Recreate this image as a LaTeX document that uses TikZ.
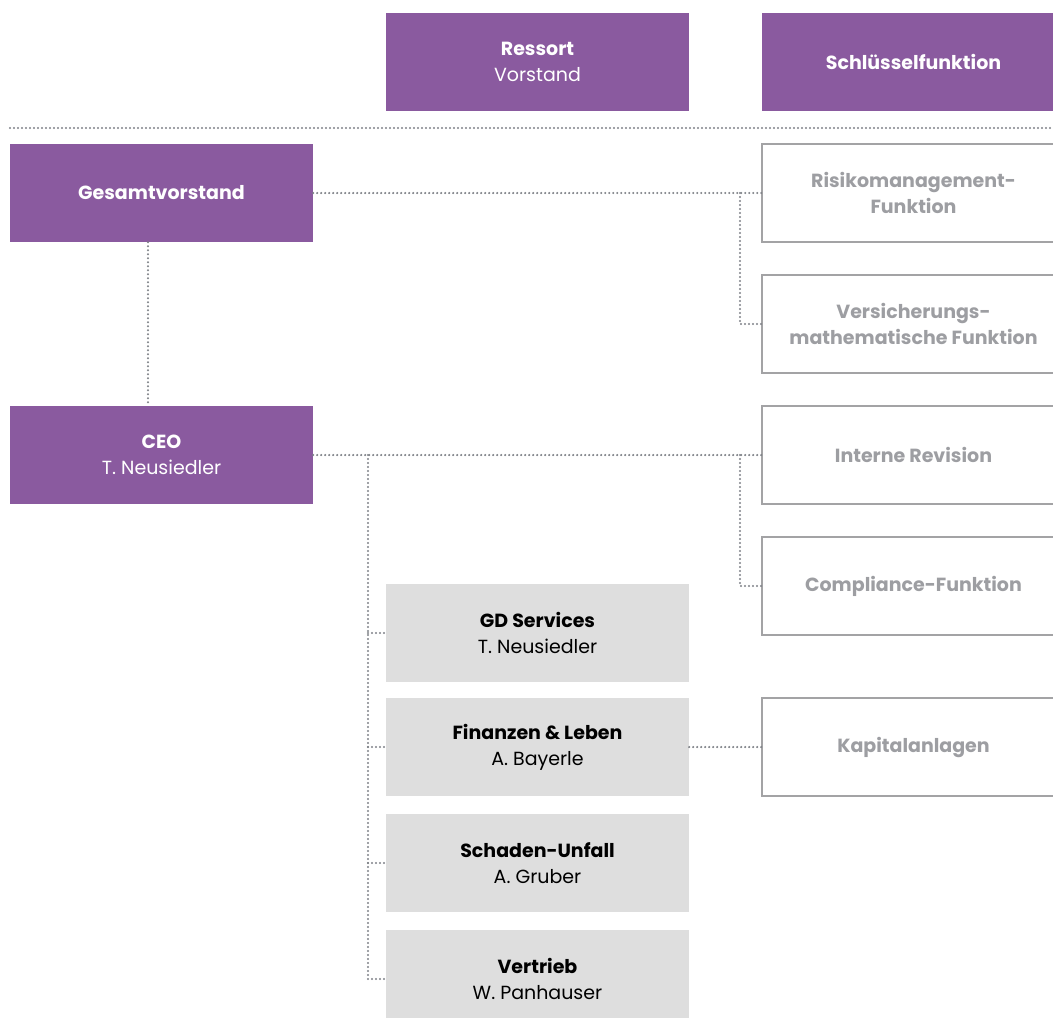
\documentclass[tikz,border=0pt]{standalone}
\usepackage{fontspec}
\setmainfont{Poppins}
\usepackage{tikz}
\usetikzlibrary{positioning, calc}

\definecolor{vpurple}{HTML}{8A5A9F}
\definecolor{vgrey}{HTML}{DEDEDE}
\definecolor{vframe}{HTML}{A3A3A5}
\definecolor{vtext}{HTML}{9D9EA2}
\definecolor{vdots}{HTML}{7F8288}

\begin{document}
\begin{tikzpicture}[
    x=1pt, y=-1pt,
    board/.style={rectangle, fill=vpurple, text=white, minimum width=303pt,
                  minimum height=98pt, inner sep=0pt, align=center, font=\fontsize{19}{26}\selectfont},
    dept/.style={rectangle, fill=vgrey, text=black, minimum width=303pt,
                 minimum height=98pt, inner sep=0pt, align=center, font=\fontsize{19}{26}\selectfont},
    keyfn/.style={rectangle, draw=vframe, line width=1.4pt, fill=white, text=vtext,
                  minimum width=303pt, minimum height=98pt, inner sep=0pt, align=center,
                  font=\fontsize{19}{26}\selectfont\bfseries},
    dots/.style={draw=vdots, line width=2.4pt, line cap=round, dash pattern=on 0pt off 4pt}
]
    \useasboundingbox (0,0) rectangle (1053,1018);
    \clip (0,0) rectangle (1053,1018);

    % Header
    \node[board] (ressort) at (537.5, 62) {\textbf{Ressort}\\Vorstand};
    \node[board] (schluessel) at (913.5, 62) {\textbf{Schlüsselfunktion}};
    \coordinate (sepL) at (10, 128);
    \coordinate (sepR) at (1053, 128);
    \draw[dots] (sepL) -- (sepR);

    % Board members
    \node[board] (gesamt) at (161.5, 193) {\textbf{Gesamtvorstand}};
    \node[board] (ceo) at (161.5, 455) {\textbf{CEO}\\T. Neusiedler};

    % Key functions
    \node[keyfn] (risiko) at (913.5, 193) {Risikomanagement-\\Funktion};
    \node[keyfn] (versich) at (913.5, 324) {Versicherungs-\\mathematische Funktion};
    \node[keyfn] (revision) at (913.5, 455) {Interne Revision};
    \node[keyfn] (compliance) at (913.5, 586) {Compliance-Funktion};
    \node[keyfn] (kapital) at (913.5, 747) {Kapitalanlagen};

    % Departments
    \node[dept] (gd) at (537.5, 633) {\textbf{GD Services}\\T. Neusiedler};
    \node[dept] (finanzen) at (537.5, 747) {\textbf{Finanzen \& Leben}\\A. Bayerle};
    \node[dept] (schaden) at (537.5, 863) {\textbf{Schaden-Unfall}\\A. Gruber};
    \node[dept] (vertrieb) at (537.5, 979) {\textbf{Vertrieb}\\W. Panhauser};

    % Board connectors
    \coordinate (vline) at (148, 300);
    \draw[dots] (vline |- gesamt.south) -- (vline |- ceo.north);
    \draw[dots] (gesamt.east) -- (risiko.west);
    \coordinate (gbranch) at (740, 193);
    \draw[dots] (gbranch) |- (versich.west);
    \draw[dots] (ceo.east) -- (revision.west);
    \coordinate (cbranch) at (740, 455);
    \draw[dots] (cbranch) |- (compliance.west);

    % Department connectors
    \coordinate (spine) at (368, 455);
    \draw[dots] (spine) |- (vertrieb.west);
    \foreach \n in {gd, finanzen, schaden}
        \draw[dots] (spine |- \n.west) -- (\n.west);
    \draw[dots] (finanzen.east) -- (kapital.west);

\end{tikzpicture}
\end{document}
